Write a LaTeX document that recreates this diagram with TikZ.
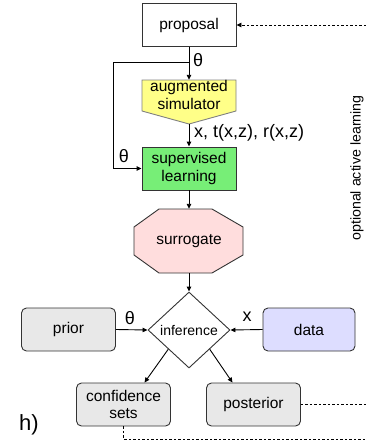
\documentclass[tikz,border=0pt]{standalone}
\usepackage{fontspec}
\setmainfont{Liberation Sans}
\usetikzlibrary{arrows.meta,shapes.geometric,calc}
\definecolor{simyellow}{HTML}{FFFF88}
\definecolor{supgreen}{HTML}{77EE77}
\definecolor{surpink}{HTML}{FFDDDD}
\definecolor{boxgray}{HTML}{E8E8E8}
\definecolor{datablue}{HTML}{DDDDFF}
\definecolor{edgegray}{HTML}{333333}
\tikzset{
  boxfont/.style={font=\fontsize{15.5}{17.5}\selectfont},
  sqbox/.style={draw=edgegray, line width=0.9pt, minimum width=94pt, minimum height=43pt, inner sep=0pt, align=center, boxfont},
  rbox/.style={sqbox, rounded corners=5pt, fill=boxgray},
  conn/.style={line width=0.9pt, -{Triangle[length=5pt,width=4.5pt]}},
  plainline/.style={line width=0.9pt},
  dashline/.style={line width=0.9pt, dash pattern=on 2.5pt off 2pt},
  lbl/.style={font=\fontsize{18}{20}\selectfont, inner sep=0pt},
}
\begin{document}
\begin{tikzpicture}[x=1pt,y=-1pt]
\useasboundingbox (0,0) rectangle (365,440);

% proposal
\node[sqbox, fill=white] (prop) at (189,25) {proposal};

% augmented simulator (pentagon)
\filldraw[fill=simyellow, draw=gray, line width=0.9pt] (142,80) -- (236,80) -- (236,111) -- (189,124) -- (142,111) -- cycle;
\node[minimum width=94pt, minimum height=44pt, inner sep=0pt] (sim) at (189,102) {};
\node[boxfont, align=center, inner sep=0pt] (simtext) at (189,95) {augmented\\simulator};

% supervised learning
\node[sqbox, fill=supgreen] (sup) at (189,168.5) {supervised\\learning};

% surrogate (octagon)
\filldraw[fill=surpink, draw=edgegray, line width=0.9pt] (159,209) -- (212,209) -- (243,227) -- (243,255) -- (212,273) -- (159,273) -- (134,255) -- (134,227) -- cycle;
\node[minimum width=109pt, minimum height=64pt, inner sep=0pt, boxfont] (sur) at (189,241) {surrogate};

% inference
\node[diamond, draw=edgegray, line width=0.9pt, fill=white, minimum width=82pt, minimum height=76pt, inner sep=0pt, font=\fontsize{14}{16}\selectfont] (inf) at (189,330) {inference};

% prior, data
\node[rbox] (prior) at (68.5,329.5) {prior};
\node[rbox, fill=datablue, minimum width=92pt] (data) at (309,329.5) {data};

% outputs
\node[rbox] (conf) at (123.5,404.5) {confidence\\sets};
\node[rbox] (post) at (253.5,404.5) {posterior};

% connectors
\draw[conn] (prop.south) -- (sim.north);
\node[lbl, anchor=west] (th1) at (193,60) {θ};
\coordinate (fb) at (189,62);
\coordinate (fbc) at (113,62);
\draw[conn] (fb) -- (fbc) |- (sup.west);
\node[lbl] (th2) at (124,156) {θ};

\draw[conn] (sim.south) -- (sup.north);
\node[lbl, anchor=west] (xtr) at (194,133) {x, t(x,z), r(x,z)};

\draw[conn] (sup.south) -- (sur.north);
\draw[conn] (sur.south) -- (inf.north);

\draw[conn] (prior.east) -- (inf.west);
\node[lbl] (th3) at (130,318) {θ};
\draw[conn] (data.west) -- (inf.east);
\node[lbl] (xl) at (247,317) {x};

\draw[conn] (inf.south west) -- ($(conf.north)+(21,0)$);
\draw[conn] (inf.south east) -- ($(post.north)+(-21,0)$);

% dashed active learning loop
\coordinate (pr) at (366,404.5);
\coordinate (cb) at (123.5,439);
\coordinate (cr) at (366,439);
\coordinate (tr) at (366,25);
\draw[dashline] (post.east) -- (pr);
\draw[dashline] (conf.south) -- (cb) -- (cr);
\draw[dashline, -{Triangle[length=5pt,width=4.5pt]}] (tr) -- (prop.east);

\node[rotate=90, font=\fontsize{14.2}{16}\selectfont, inner sep=0pt] (al) at (357,168) {optional active learning};

\node[font=\fontsize{22}{24}\selectfont, inner sep=0pt] (h) at (29,425) {h)};
\end{tikzpicture}
\end{document}
